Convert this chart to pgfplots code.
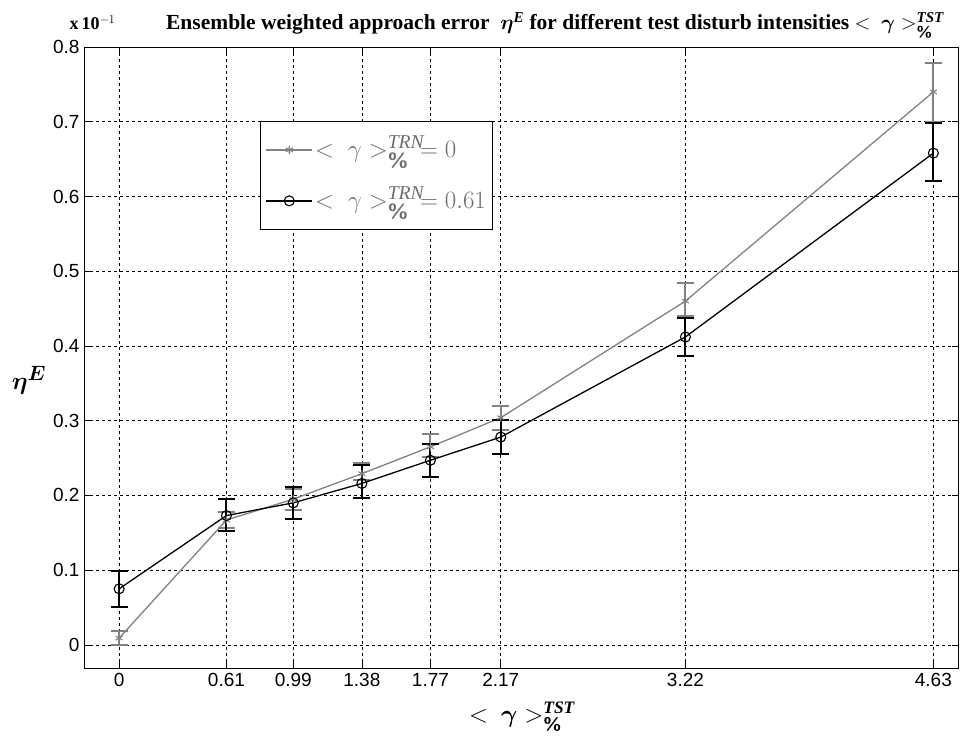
\documentclass[border=0pt]{standalone}
\usepackage{fontspec}
\setmainfont{Liberation Serif}
\newfontfamily\tickfont{Liberation Sans}
\usepackage{amsmath}
\usepackage{bm}
\usepackage{pgfplots}
\usepackage{pgfplotstable}
\pgfplotsset{compat=1.18}

\definecolor{serA}{RGB}{130,130,130}
\definecolor{legtxt}{RGB}{110,110,110}

% x, y, error plus, error minus
\pgfplotstableread{
x    y     ep    em
0    0.009 0.010 0.009
0.61 0.167 0.011 0.011
0.99 0.195 0.013 0.014
1.38 0.229 0.014 0.009
1.77 0.265 0.017 0.013
2.17 0.304 0.016 0.016
3.22 0.460 0.024 0.020
4.63 0.740 0.039 0.040
}\trnzero

\pgfplotstableread{
x    y     ep    em
0    0.075 0.024 0.024
0.61 0.173 0.022 0.021
0.99 0.190 0.021 0.021
1.38 0.216 0.024 0.020
1.77 0.247 0.022 0.022
2.17 0.278 0.023 0.023
3.22 0.412 0.025 0.026
4.63 0.658 0.040 0.037
}\trnsixone

\begin{document}
\begin{tikzpicture}[x=1pt,y=1pt]
\path[use as bounding box] (0,0) rectangle (960,742);
\begin{axis}[
  at={(84pt,74pt)}, anchor=south west,
  scale only axis, width=874pt, height=621pt,
  xmin=-0.2, xmax=4.77, ymin=-0.031, ymax=0.8,
  xtick={0,0.61,0.99,1.38,1.77,2.17,3.22,4.63},
  xticklabels={0,0.61,0.99,1.38,1.77,2.17,3.22,4.63},
  ytick={0,0.1,0.2,0.3,0.4,0.5,0.6,0.7,0.8},
  yticklabels={0,0.1,0.2,0.3,0.4,0.5,0.6,0.7,0.8},
  tick label style={font=\tickfont\fontsize{19}{21}\selectfont},
  xticklabel style={yshift=-2pt},
  yticklabel style={xshift=-1pt},
  tick align=inside, major tick length=6pt,
  tick style={black, line width=0.6pt},
  grid=major,
  major grid style={black, line width=0.6pt, dash pattern=on 3pt off 3pt},
  axis line style={black, line width=0.9pt},
  legend style={at={(0.2014,0.881)}, anchor=north west,
    draw=black, line width=0.9pt, fill=white,
    font=\fontsize{28}{32}\selectfont\color{legtxt},
    inner xsep=5pt, inner ysep=3pt,
    nodes={text height=31pt, text depth=16pt}},
  legend cell align=left,
  legend image code/.code={
    \draw[line width=1.6pt, mark repeat=2, mark phase=2] plot coordinates {(0pt,0pt) (23pt,0pt) (46pt,0pt)};},
]
\addplot[serA, line width=1.3pt, mark=asterisk, mark size=4pt,
  mark options={line width=1.1pt},
  error bars/.cd, y dir=both, y explicit,
  error bar style={serA, line width=2pt},
  error mark options={rotate=90, mark size=8.5pt, line width=2pt, serA}]
  table[x=x, y=y, y error plus=ep, y error minus=em] {\trnzero};
\addlegendentry{$<\ \gamma>_{\textsf{\textbf{\%}}}^{\mathit{TRN}}\!=0$}
\addplot[black, line width=1.3pt, mark=o, mark size=5pt,
  mark options={line width=1.1pt},
  error bars/.cd, y dir=both, y explicit,
  error bar style={black, line width=2pt},
  error mark options={rotate=90, mark size=8.5pt, line width=2pt, black}]
  table[x=x, y=y, y error plus=ep, y error minus=em] {\trnsixone};
\addlegendentry{$<\ \gamma>_{\textsf{\textbf{\%}}}^{\mathit{TRN}}\!=0.61$}
\end{axis}
\node[anchor=base west, font=\fontsize{18}{20}\selectfont\bfseries] at (66,712) {x\,10$^{-1}$};
\node[anchor=base, font=\fontsize{21.5}{24}\selectfont\bfseries] at (555,712)
  {Ensemble weighted approach error \ $\bm{\eta}^{\textit{E}}$ for different test disturb intensities $<\ \bm{\gamma}>_{\textsf{\textbf{\%}}}^{\textit{TST}}$};
\node[font=\fontsize{30}{34}\selectfont] at (29,362) {$\bm{\eta}^{\bm{E}}$};
\node[font=\fontsize{25}{28}\selectfont\bfseries] at (522,25) {$<\ \bm{\gamma}>_{\textsf{\textbf{\%}}}^{\bm{\mathit{TST}}}$};
\end{tikzpicture}
\end{document}
